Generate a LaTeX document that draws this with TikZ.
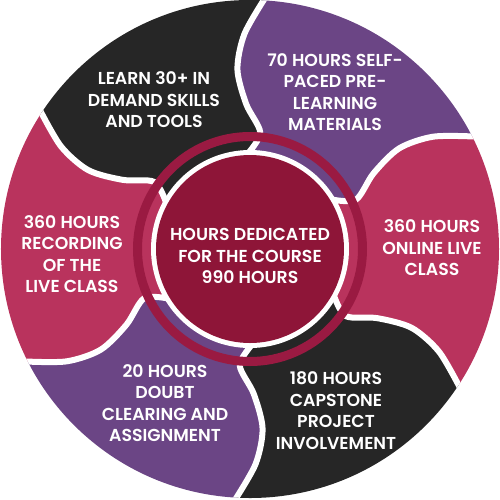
\documentclass[tikz,border=0pt]{standalone}
\usepackage{fontspec}
\setmainfont{Poppins SemiBold}
\definecolor{segdark}{HTML}{262626}
\definecolor{segpurple}{HTML}{6B4585}
\definecolor{segpink}{HTML}{B9335D}
\definecolor{diskcol}{HTML}{8E1538}
\definecolor{ringcol}{HTML}{9A1A42}
\newcommand\mkseg[3]{\fill[#1] plot[smooth] coordinates {(q1-#2)(q2-#2)(q3-#2)(q4-#2)(q5-#2)(q6-#2)} -- (#2:300) arc[start angle=#2,end angle=#3,radius=300] -- plot[smooth] coordinates {(q6-#3)(q5-#3)(q4-#3)(q3-#3)(q2-#3)(q1-#3)} -- cycle;}
\newcommand\mksep[1]{\draw[sepline] plot[smooth] coordinates {(q1-#1)(q2-#1)(q3-#1)(q4-#1)(q5-#1)(q6-#1)};}
\begin{document}
\begin{tikzpicture}[x=1pt,y=1pt,
  lbl/.style={text=white, align=center, font=\fontsize{17.3}{21.5}\selectfont, inner sep=0pt},
  sepline/.style={white, line width=6}]
\useasboundingbox (-250,-250) rectangle (250,249);
\foreach \t in {27,87,147,207,267,327,387} {
  \coordinate (q1-\t) at ({\t+4}:96);
  \coordinate (q2-\t) at ({\t-2}:117);
  \coordinate (q3-\t) at ({\t+4.5}:145);
  \coordinate (q4-\t) at ({\t+7}:180);
  \coordinate (q5-\t) at ({\t+4.5}:215);
  \coordinate (q6-\t) at ({\t-0.5}:252);
}
\begin{scope}
\clip (0,0) circle (249);
\mkseg{segpurple}{27}{87}
\mkseg{segdark}{87}{147}
\mkseg{segpink}{147}{207}
\mkseg{segpurple}{207}{267}
\mkseg{segdark}{267}{327}
\mkseg{segpink}{327}{387}
\mksep{27}\mksep{87}\mksep{147}\mksep{207}\mksep{267}\mksep{327}
\end{scope}
\fill[white] (0,0) circle (99);
\fill[diskcol] (0,0) circle (94);
\draw[ringcol, line width=9] (0,0) circle (112.5);
\node[lbl] (learn) at (-96,149) {LEARN 30+ IN\\DEMAND SKILLS\\AND TOOLS};
\node[lbl] (self) at (85,157) {70 HOURS SELF-\\PACED PRE-\\LEARNING\\MATERIALS};
\node[lbl] (online) at (182,1) {360 HOURS\\ONLINE LIVE\\CLASS};
\node[lbl] (capstone) at (86,-161.5) {180 HOURS\\CAPSTONE\\PROJECT\\INVOLVEMENT};
\node[lbl] (doubt) at (-85,-154) {20 HOURS\\DOUBT\\CLEARING AND\\ASSIGNMENT};
\node[lbl] (record) at (-178,-5) {360 HOURS\\RECORDING\\OF THE\\LIVE CLASS};
\node[lbl] (center) at (0,-7) {HOURS DEDICATED\\FOR THE COURSE\\990 HOURS};
\end{tikzpicture}
\end{document}
